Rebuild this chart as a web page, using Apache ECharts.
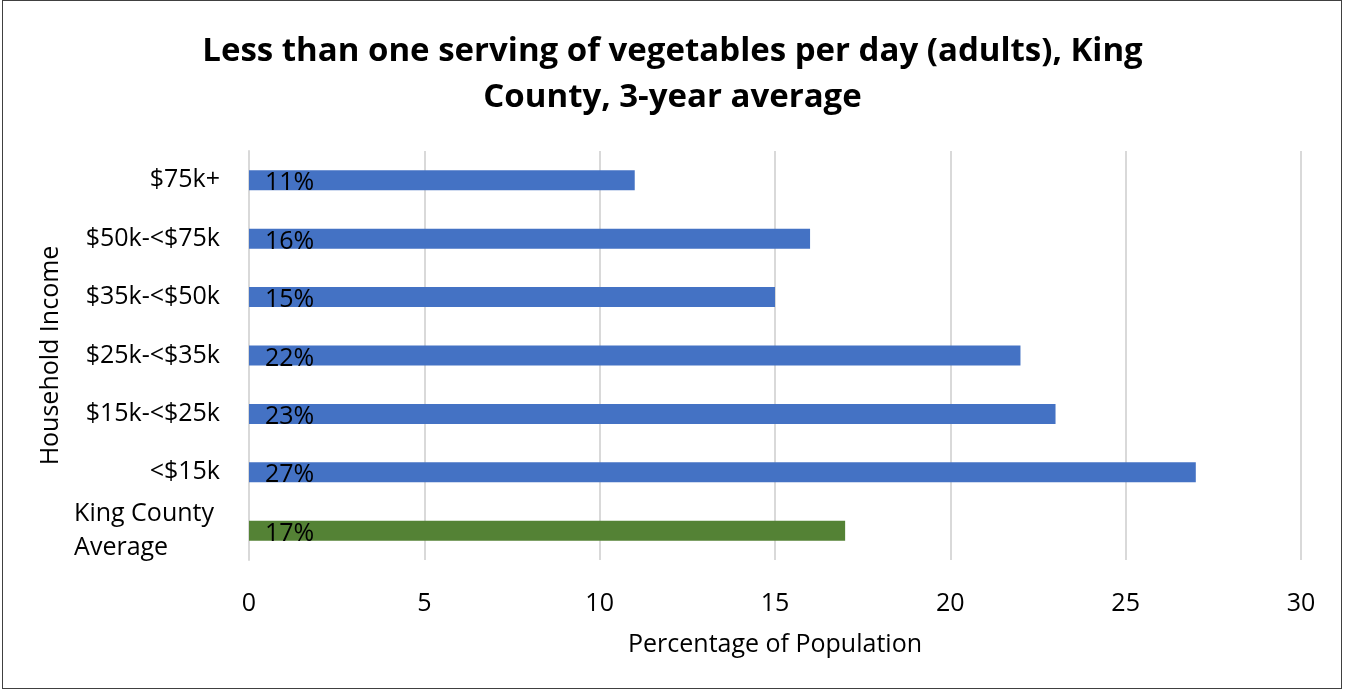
<!DOCTYPE html>
<html>
<head>
<meta charset="utf-8">
<script src="https://cdn.jsdelivr.net/npm/echarts@6/dist/echarts.min.js"></script>
<style>
  html, body { margin: 0; padding: 0; background: #fff; }
  #frame { position: absolute; left: 2px; top: 0; width: 1340px; height: 689px; border: 1px solid #404040; box-sizing: border-box; }
  #chart { position: absolute; left: 0; top: 0; width: 1345px; height: 691px; }
</style>
</head>
<body>
<div id="chart"></div>
<div id="frame"></div>
<script>
// Household income groups, bottom to top as drawn on the category axis
const categories = ['King County Average', '<$15k', '$15k-<$25k', '$25k-<$35k', '$35k-<$50k', '$50k-<$75k', '$75k+'];
const values = [17, 27, 23, 22, 15, 16, 11];
const xTicks = [0, 5, 10, 15, 20, 25, 30];

const FONT = '"Open Sans", "Noto Sans", sans-serif';
const FS = 25;
const BLUE = '#4472C4';
const GREEN = '#548235';

const chart = echarts.init(document.getElementById('chart'));
chart.setOption({
  backgroundColor: '#fff',
  animation: false,
  title: {
    text: 'Less than one serving of vegetables per day (adults), King\nCounty, 3-year average',
    left: 'center',
    top: 24,
    textStyle: { fontFamily: FONT, fontWeight: 'bold', fontSize: 33, lineHeight: 46, color: '#000' }
  },
  grid: { left: 249, right: 44, top: 151, bottom: 131 },
  xAxis: {
    type: 'value',
    min: xTicks[0],
    max: xTicks[xTicks.length - 1],
    interval: 5,
    name: 'Percentage of Population',
    nameLocation: 'middle',
    nameGap: 72,
    nameTextStyle: { fontFamily: FONT, fontSize: FS, color: '#000' },
    axisLine: { show: false },
    axisTick: { show: false },
    axisLabel: { fontFamily: FONT, fontSize: FS, color: '#000', margin: 31 },
    splitLine: { show: true, lineStyle: { color: '#d9d9d9', width: 2 } }
  },
  yAxis: {
    type: 'category',
    data: categories,
    name: 'Household Income',
    nameLocation: 'middle',
    nameGap: 180,
    nameRotate: 90,
    nameTextStyle: { fontFamily: FONT, fontSize: FS, color: '#000' },
    axisLine: { show: true, lineStyle: { color: '#d9d9d9', width: 2 } },
    axisTick: { show: false },
    axisLabel: {
      fontFamily: FONT, fontSize: FS, color: '#000', margin: 29,
      formatter: function (v) {
        if (v === 'King County Average') return '{l|King County}\n{l|Average}';
        return v;
      },
      rich: { l: { align: 'left', fontFamily: FONT, fontSize: FS, color: '#000', lineHeight: 34, padding: [0, 6, 0, 0] } }
    }
  },
  series: [{
    type: 'bar',
    barWidth: 20,
    data: values.map(function (v, i) {
      return { value: v, itemStyle: { color: i === 0 ? GREEN : BLUE } };
    }),
    label: {
      show: true,
      position: 'insideLeft',
      distance: 16,
      offset: [0, 3],
      formatter: '{c}%',
      fontFamily: FONT,
      fontSize: FS,
      color: '#000'
    }
  }]
});
</script>
</body>
</html>
